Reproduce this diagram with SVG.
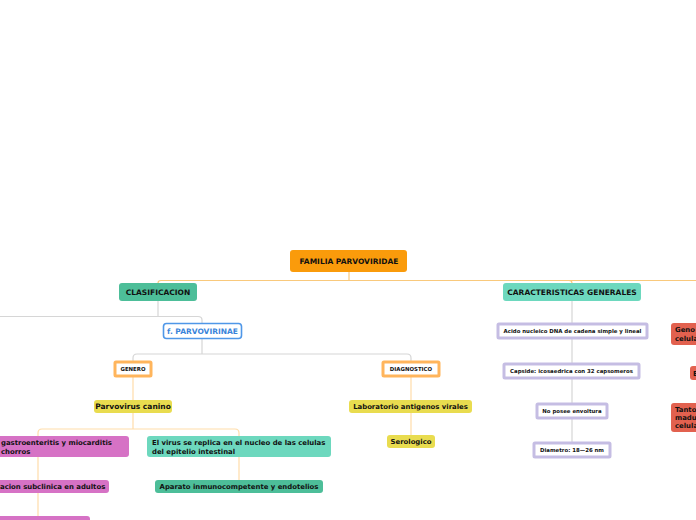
<svg xmlns="http://www.w3.org/2000/svg" width="696" height="520" viewBox="0 0 696 520">
<style>
text{font-family:"DejaVu Sans",Verdana,sans-serif;font-weight:bold;fill:#111}
.c{text-anchor:middle}
.l{fill:none;stroke-width:1.2}
.or{stroke:#F9C97C}
.gr{stroke:#D6D6D6}
.lo{stroke:#FFDDAA}
.t7{font-size:7.5px}
.t65{font-size:6.9px}
.t5{font-size:5.4px}
.lav{fill:#fff;stroke:#C5BDE3;stroke-width:3}
.ob{fill:#fff;stroke:#FFB55C;stroke-width:3}
.yl{fill:#E9DC4F}
.pk{fill:#D672C5}
.red{fill:#E2614F}
</style>
<rect width="696" height="520" fill="#fff"/>
<g id="connectors">
<path class="l or" d="M349,272 V280.5 M161,280.5 H696 M158,283 Q158,280.5 161,280.5 M569,280.5 Q572,280.5 572,283"/>
<path class="l gr" d="M158,301 V316.5 M0,316.5 H198 Q202,316.5 202,320 V323"/>
<path class="l gr" d="M202,339 V354 M137,354 H407 M133,361 V358 Q133,354 137,354 M407,354 Q411,354 411,358 V361"/>
<path class="l lo" d="M133,377 V400 M133,413 V429 M42,429 H235 M38,436 V433 Q38,429 42,429 M235,429 Q239,429 239,433 V436"/>
<path class="l lo" d="M38,457 V520 M239,457 V480"/>
<path class="l lo" d="M411,377 V400 M411,413 V435"/>
<path class="l gr" d="M572,301 V323 M572,339 V363 M572,379 V403 M572,419 V442"/>
</g>
<g id="n-familia"><rect x="290" y="250" width="117" height="22" rx="3" fill="#FA9B0B"/><text class="c t7" x="349" y="263.7">FAMILIA PARVOVIRIDAE</text></g>
<g id="n-clasificacion"><rect x="119" y="283" width="78" height="18" rx="3" fill="#4DBE99"/><text class="c t7" x="158" y="294.7">CLASIFICACION</text></g>
<g id="n-caracteristicas"><rect x="503" y="283" width="138" height="18" rx="3" fill="#6DD8BE"/><text class="c t7" x="572" y="294.7">CARACTERISTICAS GENERALES</text></g>
<g id="n-parvovirinae"><rect x="163.5" y="323.5" width="78" height="15" rx="3" fill="#fff" stroke="#4F97E8" stroke-width="1.6"/><text class="c t7" x="202.5" y="333.7" style="fill:#3A84DA">f. PARVOVIRINAE</text></g>
<g id="n-genero"><rect class="ob" x="115" y="362" width="36" height="14" rx="1"/><text class="c t5" x="133" y="371">GENERO</text></g>
<g id="n-diagnostico"><rect class="ob" x="383" y="362" width="56" height="14" rx="1"/><text class="c t5" x="411" y="371">DIAGNOSTICO</text></g>
<g id="n-parvovirus"><rect class="yl" x="94" y="400" width="78" height="13" rx="3"/><text class="c t7" x="133" y="409.3">Parvovirus canino</text></g>
<g id="n-laboratorio"><rect class="yl" x="349" y="400" width="123" height="13" rx="3"/><text class="c t65" x="410.5" y="409.2">Laboratorio antigenos virales</text></g>
<g id="n-serologico"><rect class="yl" x="387" y="435" width="48" height="13" rx="3"/><text class="c t65" x="411" y="444.2">Serologico</text></g>
<g id="n-gastro"><rect class="pk" x="-10" y="436" width="139" height="21" rx="3"/><text class="t65" x="1" y="445">gastroenteritis y miocarditis</text><text class="t65" x="1" y="453.5">chorros</text></g>
<g id="n-virus"><rect x="147" y="436" width="184" height="21" rx="3" fill="#6DD8BE"/><text class="t65" x="152" y="445">El virus se replica en el nucleo de las celulas</text><text class="t65" x="152" y="453.5">del epitelio intestinal</text></g>
<g id="n-subclinica"><rect class="pk" x="-10" y="480" width="119" height="13" rx="3"/><text class="t65" x="0" y="489.2">acion subclinica en adultos</text></g>
<g id="n-pink3"><rect class="pk" x="-10" y="516" width="100" height="10" rx="3"/></g>
<g id="n-aparato"><rect x="155" y="480" width="168" height="13" rx="3" fill="#4DBE99"/><text class="c t65" x="239" y="489.2">Aparato inmunocompetente y endotelios</text></g>
<g id="n-acido"><rect class="lav" x="498" y="324" width="149" height="14" rx="1"/><text class="c t5" x="572.5" y="333">Acido nucleico DNA de cadena simple y lineal</text></g>
<g id="n-capside"><rect class="lav" x="504" y="364" width="135" height="14" rx="1"/><text class="c t5" x="571.5" y="373">Capside: icosaedrica con 32 capsomeros</text></g>
<g id="n-envoltura"><rect class="lav" x="537" y="404" width="70" height="14" rx="1"/><text class="c t5" x="572" y="413">No posee envoltura</text></g>
<g id="n-diametro"><rect class="lav" x="534" y="443" width="76" height="14" rx="1"/><text class="c t5" x="572" y="452">Diametro: 18—26 nm</text></g>
<g id="n-genoma"><rect class="red" x="671" y="323" width="35" height="22" rx="3"/><text class="t65" x="675" y="332">Geno</text><text class="t65" x="675" y="340.5">celula</text></g>
<g id="n-e"><rect class="red" x="690" y="366" width="16" height="14" rx="3"/><text class="t65" x="693" y="375.5">E</text></g>
<g id="n-tanto"><rect class="red" x="671" y="403" width="35" height="29" rx="3"/><text class="t65" x="675" y="411.5">Tanto</text><text class="t65" x="675" y="419.5">madu</text><text class="t65" x="675" y="427.5">celula</text></g>
</svg>
